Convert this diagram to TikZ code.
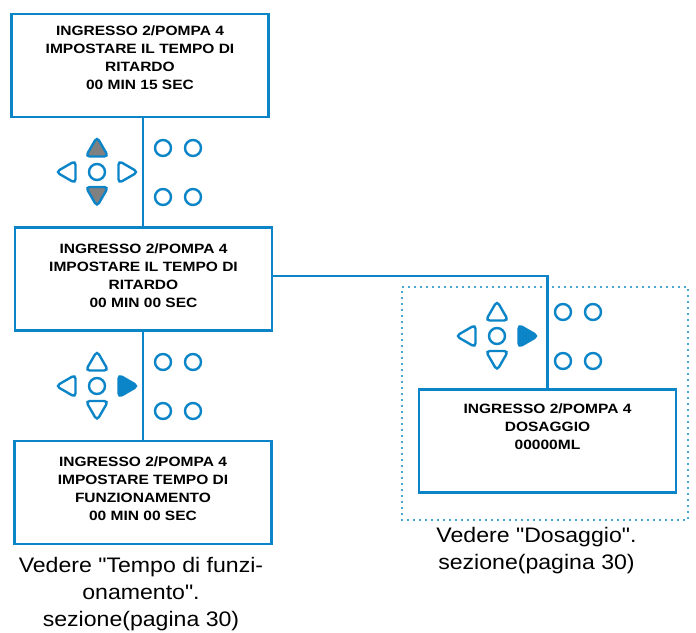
\documentclass[tikz,border=0pt]{standalone}
\usepackage{fontspec}
\setmainfont{Liberation Sans}
\newfontfamily\screenfont[FakeStretch=1.15]{Liberation Sans}
\newfontfamily\notefont[FakeStretch=1.1]{Liberation Sans}
\usetikzlibrary{shapes.geometric}
\definecolor{panelblue}{RGB}{11,133,199}
\definecolor{keygrey}{RGB}{128,128,128}
\newcommand{\padbelow}[1]{\rule[-#1]{0pt}{#1}}

\begin{document}
\begin{tikzpicture}[x=1pt, y=-1pt,
          screen/.style={rectangle, draw=panelblue, line width=2.8pt,
            minimum width=257pt, minimum height=103pt, align=center,
            font=\screenfont\bfseries\fontsize{13.5}{18}\selectfont},
          keycirc/.style={circle, draw=panelblue, line width=2.4pt,
            minimum size=16pt, inner sep=0pt},
          keytri/.style={regular polygon, regular polygon sides=3,
            draw=panelblue, line width=2.4pt, minimum size=26pt,
            inner sep=0pt, rounded corners=4pt},
          link/.style={draw=panelblue, line width=2.5pt},
          note/.style={align=center, inner sep=0pt, anchor=north,
            font=\notefont\fontsize{21}{27}\selectfont}]

          \useasboundingbox (0,0) rectangle (696,632);

          \node[draw=panelblue, line width=2.4pt, dash pattern=on 0pt off 6pt,
            line cap=round, minimum width=286pt, minimum height=233pt] (dosframe) at (545,403.5) {};

          \node[screen] (b1) at (140,65.5)
            {INGRESSO 2/POMPA 4\\IMPOSTARE IL TEMPO DI\\RITARDO\\00 MIN 15 SEC\padbelow{16pt}};
          \node[screen] (b2) at (143.5,279)
            {INGRESSO 2/POMPA 4\\IMPOSTARE IL TEMPO DI\\RITARDO\\00 MIN 00 SEC\padbelow{6pt}};
          \node[screen] (b3) at (143,492.5)
            {INGRESSO 2/POMPA 4\\IMPOSTARE TEMPO DI\\FUNZIONAMENTO\\00 MIN 00 SEC\padbelow{8pt}};
          \node[screen] (b4) at (547.5,441)
            {INGRESSO 2/POMPA 4\\DOSAGGIO\\00000ML\padbelow{29pt}};

          % keypads
          \foreach \k/\cx/\cy/\upfill/\rtfill in {1/97/172/keygrey/white,
              2/97/386/white/panelblue, 3/497/336/white/panelblue} {
            \node[keycirc] (c\k) at (\cx,\cy) {};
            \node[keytri, fill=\upfill] (up\k) at ([shift={(0,-22)}]c\k) {};
            \node[keytri, fill=\upfill, shape border rotate=180] (dn\k) at ([shift={(0,21.5)}]c\k) {};
            \node[keytri, shape border rotate=90] (lt\k) at ([shift={(-28,0)}]c\k) {};
            \node[keytri, fill=\rtfill, shape border rotate=270] (rt\k) at ([shift={(28,0)}]c\k) {};
            \node[keycirc] (fa\k) at ([shift={(66,-24)}]c\k) {};
            \node[keycirc] (fb\k) at ([shift={(96,-24)}]c\k) {};
            \node[keycirc] (fc\k) at ([shift={(66,25)}]c\k) {};
            \node[keycirc] (fd\k) at ([shift={(96,25)}]c\k) {};
          }

          \coordinate (sep) at (143,0);
          \draw[link] (b1.south -| sep) -- (b2.north -| sep);
          \draw[link] (b2.south -| sep) -- (b3.north -| sep);
          \draw[link] ([yshift=3pt]b2.east) -| (b4.north);

          \node[note] (n1) at (141,557)
            {Vedere "Tempo di funzi-\\onamento".\\sezione(pagina 30)};
          \node[note] (n2) at (536.5,527)
            {Vedere "Dosaggio".\\sezione(pagina 30)};
        \end{tikzpicture}
\end{document}
